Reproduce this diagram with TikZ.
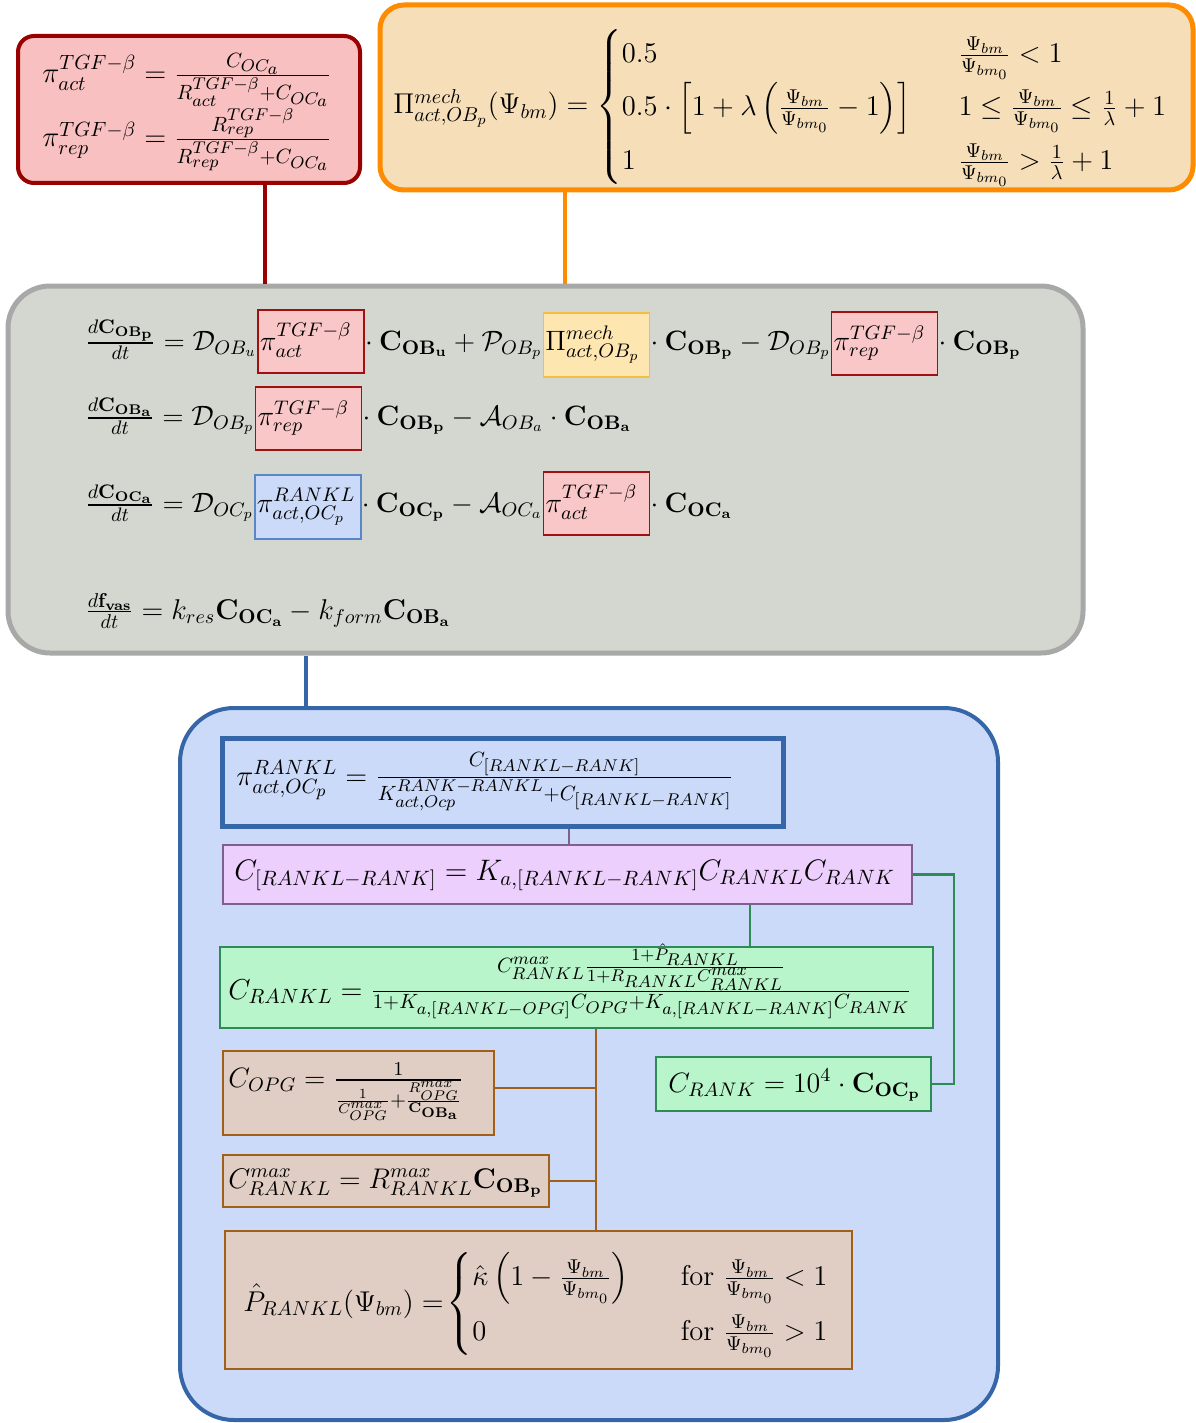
\RequirePackage{fix-cm}
\documentclass[tikz,border=0pt]{standalone}
\usepackage{amsmath}
\usetikzlibrary{calc}
\DeclareMathSizes{14.4}{14.4}{10.3}{8.5}
\definecolor{tgfdraw}{HTML}{990000}
\definecolor{tgffill}{HTML}{F8C0C0}
\definecolor{mechdraw}{HTML}{FF8C00}
\definecolor{mechfill}{HTML}{F5DEB8}
\definecolor{graydraw}{HTML}{A8A8A8}
\definecolor{grayfill}{HTML}{D4D7D0}
\definecolor{hlreddraw}{HTML}{A01010}
\definecolor{hlredfill}{HTML}{F9C7C7}
\definecolor{hlyeldraw}{HTML}{F4BE45}
\definecolor{hlyelfill}{HTML}{FEE6B0}
\definecolor{hlbluedraw}{HTML}{5A86C5}
\definecolor{bluefill}{HTML}{CCDAF9}
\definecolor{bluedraw}{HTML}{3566A8}
\definecolor{purpdraw}{HTML}{7F5F8F}
\definecolor{purpfill}{HTML}{ECCFFC}
\definecolor{greendraw}{HTML}{2E8B57}
\definecolor{greenfill}{HTML}{B8F5CA}
\definecolor{browndraw}{HTML}{A0601A}
\definecolor{brownfill}{HTML}{E0CEC4}
\begin{document}
\begin{tikzpicture}[x=0.5pt,y=-0.5pt,
  every node/.style={font=\fontsize{14.3}{17}\selectfont},
  eq/.style={inner sep=0pt, anchor=base west},
  bigscr/.style={font=\fontsize{14.4}{17}\selectfont},
  odeq/.style={inner sep=0pt, anchor=base west, font=\fontsize{14}{17}\selectfont},
  panel/.style={draw, inner sep=0pt},
  hl/.style={draw, line width=0.7pt, inner xsep=1pt, inner ysep=0pt, anchor=base west, font=\fontsize{14}{17}\selectfont},
  innerbox/.style={draw, line width=1pt, inner sep=0pt}]
\useasboundingbox (0,0) rectangle (1195,1423);

% ---- panels ----
\node[panel, draw=tgfdraw, fill=tgffill, line width=2pt, rounded corners=8pt,
  minimum width=171pt, minimum height=73.5pt] (tgf) at (189,109.5) {};
\node[panel, draw=mechdraw, fill=mechfill, line width=2.5pt, rounded corners=12pt,
  minimum width=406.5pt, minimum height=92.5pt] (mech) at (786.5,97.5) {};
\node[panel, draw=graydraw, fill=grayfill, line width=2.5pt, rounded corners=21pt,
  minimum width=537.5pt, minimum height=183.5pt] (ode) at (545.5,469.5) {};
\node[panel, draw=bluedraw, fill=bluefill, line width=2pt, rounded corners=27pt,
  minimum width=409pt, minimum height=356pt] (rankl) at (589,1064) {};

% ---- connectors between panels ----
\draw[tgfdraw, line width=2pt] ([xshift=38pt]tgf.south) -- ([xshift=38pt]tgf.south |- ode.north);
\draw[mechdraw, line width=2pt] ([xshift=-110.75pt]mech.south) -- ([xshift=-110.75pt]mech.south |- ode.north);
\draw[bluedraw, line width=2pt] ([xshift=-119.75pt]ode.south) -- ([xshift=-119.75pt]ode.south |- rankl.north);

% ---- top red panel text ----
\node[eq, bigscr] (tgfa) at (42,83) {$\pi^{TGF-\beta}_{act} = \frac{C_{OC_a}}{R^{TGF-\beta}_{act}+C_{OC_a}}$};
\node[eq, bigscr] (tgfr) at (42,147) {$\pi^{TGF-\beta}_{rep} = \frac{R^{TGF-\beta}_{rep}}{R^{TGF-\beta}_{rep}+C_{OC_a}}$};

% ---- orange panel text ----
\node[eq] (mecht) at (393,114) {$\Pi^{mech}_{act,OB_p}(\Psi_{bm}) = \renewcommand{\arraystretch}{1.5}\left\{\begin{array}{@{}l@{\hspace{24pt}}l@{}}
 0.5 & \frac{\Psi_{bm}}{\Psi_{bm_0}} < 1\\
 0.5\cdot\left[1+\lambda\left(\frac{\Psi_{bm}}{\Psi_{bm_0}}-1\right)\right] & 1\leq \frac{\Psi_{bm}}{\Psi_{bm_0}} \leq \frac{1}{\lambda}+1\\
 1 & \frac{\Psi_{bm}}{\Psi_{bm_0}} > \frac{1}{\lambda}+1
 \end{array}\right.$};

% ---- ODE rows ----
\node[odeq] (r1a) at (85,350) {$\frac{d\mathbf{C_{OB_p}}}{dt} = \mathcal{D}_{OB_u}$};
\node[hl, draw=hlreddraw, fill=hlredfill, text height=20pt, text depth=11.5pt] (h1) at (r1a.base east) {\makebox[51pt][l]{$\pi^{TGF-\beta}_{act}$}};
\node[odeq] (r1c) at (h1.base east) {$\cdot\:\mathbf{C_{OB_u}} + \mathcal{P}_{OB_p}$};
\node[hl, draw=hlyeldraw, fill=hlyelfill, text height=18.5pt, text depth=13.5pt] (h2) at (r1c.base east) {\makebox[51pt][l]{$\Pi^{mech}_{act,OB_p}$}};
\node[odeq] (r1e) at (h2.base east) {$\cdot\:\mathbf{C_{OB_p}} - \mathcal{D}_{OB_p}$};
\node[hl, draw=hlreddraw, fill=hlredfill, text height=19pt, text depth=12.5pt] (h3) at (r1e.base east) {\makebox[51pt][l]{$\pi^{TGF-\beta}_{rep}$}};
\node[odeq] (r1g) at (h3.base east) {$\cdot\:\mathbf{C_{OB_p}}$};

\node[odeq] (r2a) at (85,425) {$\frac{d\mathbf{C_{OB_a}}}{dt} = \mathcal{D}_{OB_p}$};
\node[hl, draw=hlreddraw, fill=hlredfill, text height=19pt, text depth=12.5pt] (h4) at (r2a.base east) {\makebox[51pt][l]{$\pi^{TGF-\beta}_{rep}$}};
\node[odeq] (r2c) at (h4.base east) {$\cdot\:\mathbf{C_{OB_p}} - \mathcal{A}_{OB_a}\cdot\mathbf{C_{OB_a}}$};

\node[odeq] (r3a) at (85,512) {$\frac{d\mathbf{C_{OC_a}}}{dt} = \mathcal{D}_{OC_p}$};
\node[hl, draw=hlbluedraw, fill=bluefill, text height=18.5pt, text depth=13.5pt] (h5) at (r3a.base east) {\makebox[51pt][l]{$\pi^{RANKL}_{act,OC_p}$}};
\node[odeq] (r3c) at (h5.base east) {$\cdot\:\mathbf{C_{OC_p}} - \mathcal{A}_{OC_a}$};
\node[hl, draw=hlreddraw, fill=hlredfill, text height=20pt, text depth=11.5pt] (h6) at (r3c.base east) {\makebox[51pt][l]{$\pi^{TGF-\beta}_{act}$}};
\node[odeq] (r3e) at (h6.base east) {$\cdot\:\mathbf{C_{OC_a}}$};

\node[eq] (r4) at (85,619) {$\frac{d\mathbf{f_{vas}}}{dt} = k_{res}\mathbf{C_{OC_a}} - k_{form}\mathbf{C_{OB_a}}$};

% ---- RANKL panel boxes ----
\node[innerbox, draw=bluedraw, fill=bluefill, line width=2.5pt, minimum width=280.5pt, minimum height=44pt] (pir) at (502.5,782) {};
\node[innerbox, draw=purpdraw, fill=purpfill, minimum width=344.5pt, minimum height=29.5pt] (cplx) at (567.5,874.5) {};
\node[innerbox, draw=greendraw, fill=greenfill, minimum width=356.5pt, minimum height=40.5pt] (crankl) at (576.5,987.5) {};
\node[innerbox, draw=greendraw, fill=greenfill, minimum width=137.5pt, minimum height=27pt] (crank) at (793.5,1084) {};
\node[innerbox, draw=browndraw, fill=brownfill, minimum width=135.5pt, minimum height=42pt] (copg) at (358.5,1093) {};
\node[innerbox, draw=browndraw, fill=brownfill, minimum width=163pt, minimum height=26pt] (cmax) at (386,1181) {};
\node[innerbox, draw=browndraw, fill=brownfill, minimum width=313.5pt, minimum height=69pt] (phat) at (538.5,1300) {};

% ---- RANKL panel connectors ----
\draw[purpdraw, line width=1pt] ([xshift=33.25pt]pir.south) -- ([xshift=33.25pt]pir.south |- cplx.north);
\draw[greendraw, line width=1.2pt] ([xshift=91.25pt]cplx.south) -- ([xshift=91.25pt]cplx.south |- crankl.north);
\draw[greendraw, line width=1.2pt] (cplx.east) -- ++(41,0) |- (crank.east);
\coordinate (trunk) at ([xshift=9.75pt]crankl.south);
\draw[browndraw, line width=1.2pt] (trunk) -- (trunk |- phat.north);
\draw[browndraw, line width=1.2pt] ([yshift=2.5pt]copg.east) -- ([yshift=2.5pt]copg.east -| trunk);
\draw[browndraw, line width=1.2pt] (cmax.east) -- (cmax.east -| trunk);

% ---- RANKL panel text ----
\node[eq, bigscr] (pirt) at (236,785) {$\pi^{RANKL}_{act,OC_p} = \frac{C_{[RANKL-RANK]}}{K^{RANK-RANKL}_{act,Ocp}+C_{[RANKL-RANK]}}$};
\node[eq, font=\fontsize{14.8}{17}\selectfont] (cplxt) at (234,880) {$C_{[RANKL-RANK]} = K_{a,[RANKL-RANK]}C_{RANKL}C_{RANK}$};
\node[eq, bigscr] (crankt) at (228,999) {$C_{RANKL} = \frac{C^{max}_{RANKL}\frac{1+\hat{P}_{RANKL}}{1+R_{RANKL}C^{max}_{RANKL}}}{1+K_{a,[RANKL-OPG]}C_{OPG}+K_{a,[RANKL-RANK]}C_{RANK}}$};
\node[eq, font=\fontsize{14}{17}\selectfont] (crankt2) at (668,1092) {$C_{RANK} = 10^4\cdot\mathbf{C_{OC_p}}$};
\node[eq, font=\fontsize{14}{17}\selectfont] (copgt) at (228,1087) {$C_{OPG} = \frac{1}{\frac{1}{C^{max}_{OPG}}+\frac{R^{max}_{OPG}}{\mathbf{C_{OB_a}}}}$};
\node[eq, font=\fontsize{14.2}{17}\selectfont] (cmaxt) at (228,1188) {$C^{max}_{RANKL} = R^{max}_{RANKL}\mathbf{C_{OB_p}}$};
\node[eq] (phatt) at (243,1311) {$\hat{P}_{RANKL}(\Psi_{bm}) =\mskip-3mu \renewcommand{\arraystretch}{1.5}\left\{\begin{array}{@{}l@{\hspace{26pt}}l@{}}
 \hat{\kappa}\left(1-\frac{\Psi_{bm}}{\Psi_{bm_0}}\right) & \text{for } \frac{\Psi_{bm}}{\Psi_{bm_0}}<1\\
 0 & \text{for } \frac{\Psi_{bm}}{\Psi_{bm_0}}>1
 \end{array}\right.$};
\end{tikzpicture}
\end{document}
